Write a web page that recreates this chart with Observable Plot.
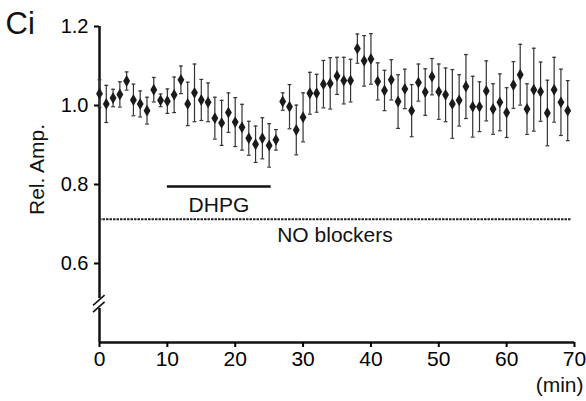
<!DOCTYPE html>
<html>
<head>
<meta charset="utf-8">
<script src="https://cdn.jsdelivr.net/npm/d3@7"></script>
<script src="https://cdn.jsdelivr.net/npm/@observablehq/plot@0.6"></script>
<style>
  html, body { margin: 0; padding: 0; background: #fff; }
  #chart { width: 586px; height: 401px; }
</style>
</head>
<body>
<div id="chart"></div>
<script>
// ---- data ----
const minutes = d3.range(0, 70);
const relAmp = [
  1.030, 1.004, 1.019, 1.028, 1.062, 1.014, 1.004, 0.987, 1.040, 1.013,
  1.011, 1.027, 1.065, 1.004, 1.032, 1.014, 1.008, 0.968, 0.956, 0.982,
  0.958, 0.945, 0.917, 0.902, 0.917, 0.899, 0.913, 1.010, 0.997, 0.938,
  0.970, 1.031, 1.031, 1.054, 1.056, 1.075, 1.063, 1.063, 1.144, 1.113,
  1.118, 1.061, 1.038, 1.065, 1.010, 1.042, 0.987, 1.058, 1.034, 1.073,
  1.035, 1.027, 1.004, 1.013, 1.048, 0.997, 0.997, 1.037, 0.991, 1.008,
  0.982, 1.052, 1.078, 0.991, 1.040, 1.035, 0.981, 1.040, 1.008, 0.987
];
const sem = [
  0.035, 0.047, 0.022, 0.032, 0.023, 0.040, 0.033, 0.034, 0.031, 0.016,
  0.031, 0.045, 0.035, 0.055, 0.073, 0.052, 0.049, 0.053, 0.057, 0.050,
  0.062, 0.058, 0.043, 0.046, 0.052, 0.055, 0.026, 0.022, 0.056, 0.063,
  0.062, 0.053, 0.048, 0.060, 0.065, 0.047, 0.059, 0.054, 0.037, 0.064,
  0.064, 0.047, 0.051, 0.051, 0.068, 0.050, 0.066, 0.047, 0.059, 0.046,
  0.070, 0.068, 0.087, 0.065, 0.081, 0.077, 0.063, 0.076, 0.064, 0.072,
  0.063, 0.059, 0.077, 0.064, 0.105, 0.075, 0.083, 0.082, 0.084, 0.076
];
const xTicks = [0, 10, 20, 30, 40, 50, 60, 70];
const yTicks = [0.6, 0.8, 1.0, 1.2];
const xDomain = [0, 70];
const yDomain = [0.4, 1.2];

// DHPG application period (min) and level of the bar
const dhpg = [{x1: 10, x2: 25.3, y: 0.795}];
// "NO blockers" reference level
const noBlockers = [{x1: 0, x2: 69.5, y: 0.712}];
// text annotations
const labels = [
  {text: "DHPG", x: 17.6, y: 0.747},
  {text: "NO blockers", x: 34.7, y: 0.671}
];
// axis-break marks (two parallel slashes across the y axis)
const breakMarks = [
  {x1: -0.95, y1: 0.494, x2: 0.75, y2: 0.520},
  {x1: -0.95, y1: 0.477, x2: 0.75, y2: 0.503}
];

const data = minutes.map((m, i) => ({m, v: relAmp[i], e: sem[i]}));
const capHalf = 0.28;

const chart = Plot.plot({
  width: 586,
  height: 401,
  marginLeft: 99,
  marginRight: 12,
  marginTop: 26,
  marginBottom: 59,
  style: {fontFamily: "'Liberation Sans', Arial, sans-serif", color: "#000", background: "#fff", overflow: "visible"},
  x: {domain: xDomain, axis: null},
  y: {domain: yDomain, axis: null},
  marks: [
    // axes lines
    Plot.ruleX([0], {y1: yDomain[0], y2: yDomain[1], stroke: "#111", strokeWidth: 2.5}),
    Plot.ruleY([yDomain[0]], {x1: xDomain[0], x2: xDomain[1], stroke: "#111", strokeWidth: 2.5}),
    Plot.axisY({ticks: yTicks, tickFormat: d3.format(".1f"), tickSize: 5, tickPadding: 6, fontSize: 20, label: null, strokeWidth: 2}),
    Plot.axisX({ticks: xTicks, tickFormat: d3.format("d"), tickSize: 5, tickPadding: 4, fontSize: 21, label: null, strokeWidth: 2}),
    // axis break
    Plot.ruleX([0], {y1: 0.486, y2: 0.511, stroke: "#fff", strokeWidth: 4}),
    Plot.link(breakMarks, {x1: "x1", y1: "y1", x2: "x2", y2: "y2", stroke: "#111", strokeWidth: 1.6, clip: false}),
    // reference lines
    Plot.ruleY(noBlockers, {y: "y", x1: "x1", x2: "x2", stroke: "#222", strokeWidth: 2.2, strokeDasharray: "2.5,1"}),
    Plot.ruleY(dhpg, {y: "y", x1: "x1", x2: "x2", stroke: "#111", strokeWidth: 2.5}),
    Plot.text(labels, {x: "x", y: "y", text: "text", fontSize: 21, fill: "#111", textAnchor: "middle", lineAnchor: "middle"}),
    // error bars
    Plot.ruleX(data, {x: "m", y1: d => d.v - d.e, y2: d => d.v + d.e, stroke: "#333", strokeWidth: 1.2}),
    Plot.link(data, {x1: d => d.m - capHalf, x2: d => d.m + capHalf, y1: d => d.v + d.e, y2: d => d.v + d.e, stroke: "#333", strokeWidth: 1.2, clip: false}),
    Plot.link(data, {x1: d => d.m - capHalf, x2: d => d.m + capHalf, y1: d => d.v - d.e, y2: d => d.v - d.e, stroke: "#333", strokeWidth: 1.2, clip: false}),
    // means
    Plot.dot(data, {x: "m", y: "v", symbol: "diamond", r: 3.6, fill: "#1a1a1a", stroke: "none"}),
    // panel letter, axis labels
    Plot.text(["Ci"], {frameAnchor: "top-left", dx: -94, dy: -2, textAnchor: "start", lineAnchor: "middle", fontSize: 31, fill: "#111"}),
    Plot.text(["Rel. Amp."], {frameAnchor: "left", rotate: -90, dx: -62, dy: -15, textAnchor: "middle", lineAnchor: "middle", fontSize: 21, fill: "#111"}),
    Plot.text(["(min)"], {frameAnchor: "bottom-right", dx: 9, dy: 43, textAnchor: "end", lineAnchor: "middle", fontSize: 21, fill: "#111"})
  ]
});
document.getElementById("chart").appendChild(chart);
</script>
</body>
</html>
